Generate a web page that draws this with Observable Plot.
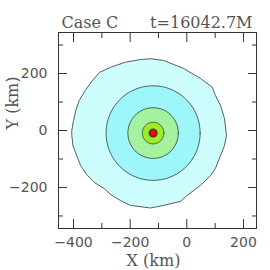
<!DOCTYPE html>
<html><head><meta charset="utf-8">
<script src="https://cdn.jsdelivr.net/npm/d3@7"></script>
<script src="https://cdn.jsdelivr.net/npm/@observablehq/plot@0.6"></script>
<style>body{margin:0;background:#fff;}</style>
</head><body><div id="chart"></div>
<script>
// Outer contour (km)
const outerX = [-406,-400,-392,-380,-359,-333,-308,-269,-216,-164,-128,-82,-12,48,90,101,119,133,140,133,119,101,84,48,1,-22,-82,-128,-199,-234,-269,-291,-326,-354,-375,-389,-402,-406];
const outerY = [0,35,70,105,140,176,204,222,240,249,252,246,218,183,152,123,88,42,-18,-53,-88,-133,-158,-193,-228,-249,-263,-272,-263,-246,-225,-204,-183,-154,-123,-88,-53,-18];
const outerFill = "#cdfdfd";
// Inner, nearly circular contours around the centre (km)
const centreX = -119, centreY = -9;
const ringRadius = [166, 89, 38, 16, 8];
const ringFill = ["#9cf6fa", "#a4f2a0", "#a0ea2c", "#7a2a12", "#ee1111"];
const ringStroke = ["#2f3f3f", "#2f3f2f", "#2f3f2f", "none", "none"];
// Axes
const xMajor = [-400, -200, 0, 200], xMinor = [-300, -100, 100];
const yMajor = [-200, 0, 200], yMinor = [-300, -100, 100, 300];
const titleLeft = "Case C", titleRight = "t=16042.7M";
const xLabel = "X (km)", yLabel = "Y (km)";

const outer = outerX.map((x, i) => ({x, y: outerY[i]}));
const rings = ringRadius.map((r, k) => d3.range(0, 361, 4).map(a => ({
  k, x: centreX + r * Math.cos(a * Math.PI / 180), y: centreY + r * Math.sin(a * Math.PI / 180)
})));

const ink = "#333", txt = "#555";
function tx(values, anchor, size) {
  return Plot.axisX(values, {anchor, tickSize: size, dy: anchor === "bottom" ? -size : size,
    tickFormat: () => "", stroke: ink, label: null});
}
function ty(values, anchor, size) {
  return Plot.axisY(values, {anchor, tickSize: size, dx: anchor === "left" ? size : -size,
    tickFormat: () => "", stroke: ink, label: null});
}

const chart = Plot.plot({
  width: 270, height: 270,
  marginLeft: 58, marginRight: 14, marginTop: 32, marginBottom: 42,
  x: {domain: [-453, 246]},
  y: {domain: [-344, 344]},
  style: {background: "#fff", fontFamily: "DejaVu Sans"},
  marks: [
    Plot.line(outer, {x: "x", y: "y", curve: "linear-closed", fill: outerFill, stroke: ink, strokeWidth: 0.8}),
    ...rings.map((pts, k) => Plot.line(pts, {x: "x", y: "y", curve: "linear-closed", fill: ringFill[k], stroke: ringStroke[k], strokeWidth: 0.8})),
    tx(xMajor, "bottom", 9), tx(xMinor, "bottom", 5), tx(xMajor, "top", 9), tx(xMinor, "top", 5),
    ty(yMajor, "left", 9), ty(yMinor, "left", 5), ty(yMajor, "right", 9), ty(yMinor, "right", 5),
    Plot.axisX(xMajor, {anchor: "bottom", tickSize: 0, tickPadding: 9, fontSize: 14, fill: txt, label: null}),
    Plot.axisY(yMajor, {anchor: "left", tickSize: 0, tickPadding: 11, fontSize: 14, fill: txt, label: null}),
    Plot.frame({stroke: ink, strokeWidth: 1}),
    Plot.text([titleLeft], {frameAnchor: "top-left", textAnchor: "start", lineAnchor: "bottom", dx: 3, dy: -5, fontSize: 16, fontFamily: "DejaVu Serif", fill: txt}),
    Plot.text([titleRight], {frameAnchor: "top-right", textAnchor: "end", lineAnchor: "bottom", dx: -4, dy: -5, fontSize: 16, fontFamily: "DejaVu Serif", fill: txt}),
    Plot.text([xLabel], {frameAnchor: "bottom", lineAnchor: "bottom", dx: -4, dy: 37, fontSize: 16, fontFamily: "DejaVu Serif", fill: txt}),
    Plot.text([yLabel], {frameAnchor: "left", lineAnchor: "bottom", rotate: -90, dx: -41, dy: -1, fontSize: 16, fontFamily: "DejaVu Serif", fill: txt})
  ]
});
document.getElementById("chart").appendChild(chart);
</script>
</body></html>
